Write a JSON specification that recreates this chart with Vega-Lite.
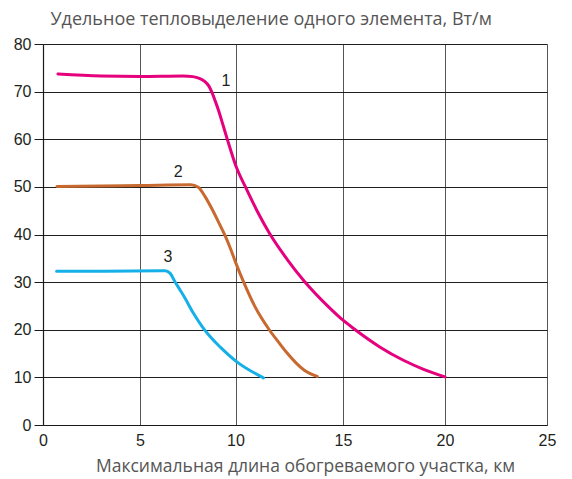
{
  "$schema": "https://vega.github.io/schema/vega-lite/v6.json",
  "width": 504,
  "height": 381,
  "autosize": {"type": "none"},
  "padding": {"left": 43, "top": 44, "right": 25, "bottom": 54},
  "background": "white",
  "config": {"view": {"stroke": null}},
  "datasets": {
    "curves": [
      {"s": "1", "x": 0.77, "y": 73.7}, {"s": "1", "x": 3, "y": 73.3}, {"s": "1", "x": 5, "y": 73.2},
      {"s": "1", "x": 7.25, "y": 73.3}, {"s": "1", "x": 7.77, "y": 73.15}, {"s": "1", "x": 8.1, "y": 72.8},
      {"s": "1", "x": 8.4, "y": 72.1}, {"s": "1", "x": 8.6, "y": 71.2}, {"s": "1", "x": 8.75, "y": 70.0},
      {"s": "1", "x": 8.95, "y": 67.9}, {"s": "1", "x": 9.1, "y": 66.2}, {"s": "1", "x": 9.3, "y": 63.6},
      {"s": "1", "x": 9.6, "y": 59.6}, {"s": "1", "x": 10.05, "y": 54}, {"s": "1", "x": 10.44, "y": 50.2},
      {"s": "1", "x": 11.0, "y": 45}, {"s": "1", "x": 11.6, "y": 40.1}, {"s": "1", "x": 12.4, "y": 34.8},
      {"s": "1", "x": 13.2, "y": 30.2}, {"s": "1", "x": 14.4, "y": 24.5}, {"s": "1", "x": 15, "y": 22},
      {"s": "1", "x": 15.6, "y": 20}, {"s": "1", "x": 16.8, "y": 16.4}, {"s": "1", "x": 17.96, "y": 13.6},
      {"s": "1", "x": 18.95, "y": 11.7}, {"s": "1", "x": 20, "y": 10.1},
      {"s": "2", "x": 0.72, "y": 50.1}, {"s": "2", "x": 3, "y": 50.2}, {"s": "2", "x": 5, "y": 50.3},
      {"s": "2", "x": 7.65, "y": 50.45}, {"s": "2", "x": 8.05, "y": 49.9}, {"s": "2", "x": 8.4, "y": 48},
      {"s": "2", "x": 8.75, "y": 45.5}, {"s": "2", "x": 9.1, "y": 42.7}, {"s": "2", "x": 9.45, "y": 39.8},
      {"s": "2", "x": 9.75, "y": 36.9}, {"s": "2", "x": 10, "y": 34.2}, {"s": "2", "x": 10.36, "y": 30.2},
      {"s": "2", "x": 10.9, "y": 24.9}, {"s": "2", "x": 11.57, "y": 20.0}, {"s": "2", "x": 12.0, "y": 17.4},
      {"s": "2", "x": 12.4, "y": 15.1}, {"s": "2", "x": 12.8, "y": 13.1}, {"s": "2", "x": 13.2, "y": 11.5},
      {"s": "2", "x": 13.8, "y": 10.2},
      {"s": "3", "x": 0.7, "y": 32.3}, {"s": "3", "x": 3, "y": 32.3}, {"s": "3", "x": 6.31, "y": 32.4},
      {"s": "3", "x": 6.57, "y": 31.9}, {"s": "3", "x": 6.83, "y": 30.1}, {"s": "3", "x": 7.09, "y": 28.4},
      {"s": "3", "x": 7.36, "y": 26.6}, {"s": "3", "x": 7.79, "y": 23.5}, {"s": "3", "x": 8.32, "y": 20.3},
      {"s": "3", "x": 8.75, "y": 18.2}, {"s": "3", "x": 9.19, "y": 16.4}, {"s": "3", "x": 10.05, "y": 13.3},
      {"s": "3", "x": 11.3, "y": 9.9}
    ],
    "labels": [
      {"s": "1", "x": 9.5, "y": 72.3},
      {"s": "2", "x": 7.0, "y": 53.2},
      {"s": "3", "x": 6.47, "y": 35.3}
    ]
  },
  "layer": [
    {
      "data": {"name": "curves"},
      "mark": {"type": "line", "interpolate": "monotone", "strokeWidth": 3, "strokeCap": "round", "strokeJoin": "round"},
      "encoding": {
        "x": {
          "field": "x", "type": "quantitative",
          "scale": {"domain": [0, 5, 10, 15, 20, 25], "range": [0, 97, 192.5, 300, 402, 504], "nice": false, "zero": false},
          "axis": {
            "values": [0, 5, 10, 15, 20, 25],
            "grid": true, "gridColor": "#555555", "gridWidth": 1,
            "domain": true, "domainColor": "#1a1a1a", "domainWidth": 1.2,
            "ticks": false,
            "labelFont": "Liberation Sans", "labelFontSize": 16, "labelColor": "#231f20",
            "labelPadding": 7, "labelFlush": false,
            "title": "Максимальная длина обогреваемого участка, км",
            "titleFont": "Open Sans", "titleFontSize": 17.5, "titleFontWeight": "normal", "titleColor": "#555555",
            "titleAnchor": "start", "titleAlign": "center", "titleBaseline": "alphabetic",
            "titleX": 262, "titleY": 46
          }
        },
        "y": {
          "field": "y", "type": "quantitative",
          "scale": {"domain": [0, 80], "nice": false},
          "axis": {
            "values": [0, 10, 20, 30, 40, 50, 60, 70, 80],
            "grid": true, "gridColor": "#1f1f1f", "gridWidth": 1,
            "domain": true, "domainColor": "#1a1a1a", "domainWidth": 1.2,
            "ticks": true, "tickSize": 9, "tickColor": "#1a1a1a",
            "labelFont": "Liberation Sans", "labelFontSize": 16, "labelColor": "#231f20",
            "labelPadding": 3,
            "title": "Удельное тепловыделение одного элемента, Вт/м",
            "titleFont": "Open Sans", "titleFontSize": 18, "titleFontWeight": "normal", "titleColor": "#555555",
            "titleAngle": 0, "titleAnchor": "start", "titleAlign": "left", "titleBaseline": "alphabetic",
            "titleX": 7, "titleY": -20
          }
        },
        "color": {
          "field": "s", "type": "nominal",
          "scale": {"domain": ["1", "2", "3"], "range": ["#e5007d", "#c8692f", "#16b0e8"]},
          "legend": null
        }
      }
    },
    {
      "data": {"name": "labels"},
      "mark": {"type": "text", "font": "Liberation Sans", "fontSize": 16, "color": "#231f20", "baseline": "middle", "align": "center"},
      "encoding": {
        "x": {"field": "x", "type": "quantitative"},
        "y": {"field": "y", "type": "quantitative"},
        "text": {"field": "s"}
      }
    }
  ]
}
